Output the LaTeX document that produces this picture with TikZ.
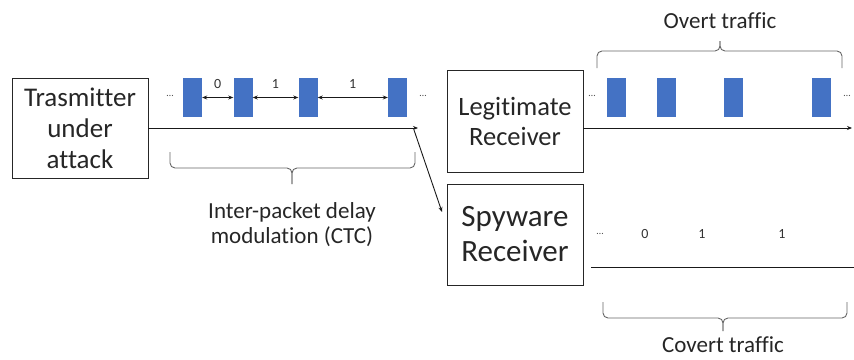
\documentclass[tikz,border=0pt]{standalone}
\usepackage{fontspec}
\setmainfont{Carlito}[Ligatures=NoCommon]
\usepackage{tikz}
\usetikzlibrary{positioning,arrows.meta}
\definecolor{paquete}{HTML}{4472C4}

\begin{document}
\begin{tikzpicture}[
  x=1pt, y=-1pt,
  caja/.style={rectangle, draw=black!85, line width=0.9pt, align=center, inner sep=0pt, text=black!85},
  paq/.style={rectangle, fill=paquete, minimum width=19pt, minimum height=39pt, inner sep=0pt},
  flecha/.style={-{Stealth[length=5pt,width=4pt]}, draw=black!90, line width=0.9pt},
  retardo/.style={{Stealth[length=5pt,width=4pt]}-{Stealth[length=5pt,width=4pt]}, draw=black!90, line width=0.8pt},
  llave/.style={draw=black!60, line width=0.9pt, rounded corners=5pt},
  bit/.style={font=\fontsize{14}{16}\selectfont, text=black!80},
  puntos/.style={font=\fontsize{10}{12}\selectfont, text=black!70},
  rotulo/.style={align=center, font=\fontsize{23}{25}\selectfont, text=black!85}
]
\useasboundingbox (0,0) rectangle (854,359);
% cajas
\node[caja, minimum width=136pt, minimum height=100pt, font=\fontsize{27}{31}\selectfont] (tx) at (80,128) {Trasmitter\\under\\attack};
\node[caja, minimum width=136pt, minimum height=102pt, font=\fontsize{26.5}{30}\selectfont] (legit) at (515,121) {Legitimate\\Receiver};
\node[caja, minimum width=136pt, minimum height=101pt, font=\fontsize{31}{35}\selectfont] (spy) at (515,234.5) {Spyware\\Receiver};
% paquetes enviados
\node[paq] (p1) at (192.5,97.5) {};
\node[paq] (p2) at (243,97.5) {};
\node[paq] (p3) at (308,97.5) {};
\node[paq] (p4) at (397.5,97.5) {};
\node[puntos] (d1) at (170,96) {\ldots};
\node[puntos] (d2) at (423,96) {\ldots};
\draw[retardo] (p1.east) -- (p2.west) node[bit, midway, above=5pt] (b1) {0};
\draw[retardo] (p2.east) -- (p3.west) node[bit, midway, above=5pt] (b2) {1};
\draw[retardo] (p3.east) -- (p4.west) node[bit, midway, above=5pt] (b3) {1};
% linea de tiempo del emisor
\coordinate (fin) at (418,128);
\coordinate (ramal) at (414,130);
\coordinate (llegada) at (442,212);
\draw[flecha] (tx.east) -- (fin);
\draw[flecha] (ramal) -- (llegada);
% paquetes recibidos
\node[paq] (q1) at (616,97.5) {};
\node[paq] (q2) at (666.5,97.5) {};
\node[paq] (q3) at (733,97.5) {};
\node[paq] (q4) at (821.5,97.5) {};
\node[puntos] (d3) at (592,96) {\ldots};
\node[puntos] (d4) at (847,96) {\ldots};
\coordinate (ini1) at (583,128);
\coordinate (fin1) at (852,128);
\draw[flecha] (ini1) -- (fin1);
% canal encubierto
\coordinate (ini2) at (591,267);
\coordinate (fin2) at (854,267);
\draw[draw=black!90, line width=0.9pt] (ini2) -- (fin2);
\node[puntos] (d5) at (600,234) {\ldots};
\node[bit] (c1) at (645,234) {0};
\node[bit] (c2) at (702,234) {1};
\node[bit] (c3) at (782,234) {1};
% llaves
\draw[llave] (170,152) |- (292,168) -- (292,184);
\draw[llave] (415,152) |- (292,168) -- (292,184);
\node[rotulo] (ctc) at (292,225) {Inter-packet delay\\modulation (CTC)};
\draw[llave] (597,68) |- (720,51) -- (720,41);
\draw[llave] (842,68) |- (720,51) -- (720,41);
\node[rotulo] (overt) at (720,21) {Overt traffic};
\draw[llave] (603,302) |- (723,318) -- (723,331);
\draw[llave] (847,302) |- (723,318) -- (723,331);
\node[rotulo] (covert) at (723,345) {Covert traffic};
\end{tikzpicture}
\end{document}
